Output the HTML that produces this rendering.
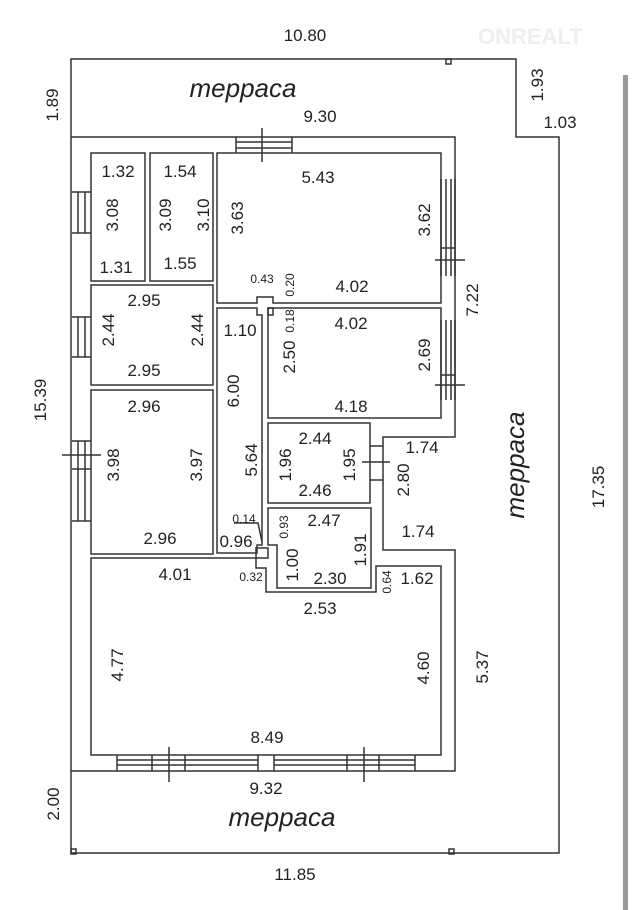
<!DOCTYPE html>
<html><head><meta charset="utf-8"><style>
html,body{margin:0;padding:0;background:#fff;}
svg{display:block;}
text{font-family:"Liberation Sans Narrow","Liberation Sans",sans-serif;fill:#222;font-stretch:condensed;}
.n{font-size:17px;}
.s{font-size:12px;}
.t{font-size:26px;font-style:italic;font-family:"DejaVu Sans","Liberation Sans",sans-serif;fill:#444;font-weight:normal;}
</style></head><body>
<svg width="633" height="910" viewBox="0 0 633 910" xmlns="http://www.w3.org/2000/svg">
<g fill="none" stroke="#333" stroke-width="1.5">
<path d="M71 59 H516 V137 H559 V853 H71 Z"/>
<rect x="446" y="59" width="5" height="5"/>
<rect x="71" y="849" width="5" height="5"/>
<rect x="449" y="849" width="5" height="5"/>
<path d="M71 137 H455 V437 H383 V550 H455 V771 H71"/>
<rect x="91" y="153" width="54" height="128"/>
<rect x="150" y="153" width="63" height="128"/>
<path d="M217 153 H441 V303 H273 V297 H257 V303 H217 Z"/>
<rect x="91" y="285" width="122" height="100"/>
<rect x="91" y="390" width="122" height="164"/>
<path d="M217 308 H257 V315 H262 V545 H257 V553 H217 Z"/>
<path d="M268 308 H273 V315 H268 Z"/>
<rect x="268" y="308" width="173" height="110"/>
<rect x="268" y="423" width="102" height="80"/>
<path d="M268 508 H371 V588 H277 V545 H268 Z"/>
<path d="M91 558 H256 V568 H266 V592 H376 V566 H441 V755 H91 Z"/>
<path d="M256 548 H268 V558 H256 Z" />
<path d="M236 137 V153 M292 137 V153 M236 142 H292 M236 148 H292 M262 128 V162"/>
<path d="M72 192 H91 M72 233 H91 M78 192 V233 M85 192 V233"/>
<path d="M72 317 H91 M72 357 H91 M78 317 V357 M85 317 V357"/>
<path d="M72 441 H91 M72 521 H91 M78 441 V521 M85 441 V521 M62 455 H101 M72 469 H91"/>
<path d="M441 179 V276 M455 179 V276 M446 179 V276 M451 179 V276 M441 248 H455 M435 260 H465"/>
<path d="M441 320 V400 M455 320 V400 M446 320 V400 M451 320 V400 M441 375 H455 M435 385 H465"/>
<path d="M370 446 H383 M370 480 H383 M362 462 H390"/>
<path d="M117 755 V771 M258 755 V771 M274 755 V771 M415 755 V771 M117 760 H258 M117 765 H258 M274 760 H415 M274 765 H415 M152 755 V771 M185 755 V771 M347 755 V771 M379 755 V771 M169 747 V782 M364 747 V782"/>
<path d="M234 523 H258 L262 542"/>
</g>
<rect x="623" y="75" width="5" height="835" fill="#999"/>
<text x="478" y="44" style="font-size:22px;font-weight:bold;fill:#eee;font-family:'Liberation Sans',sans-serif">ONREALT</text>

<g class="n" text-anchor="middle">
<text x="305" y="41">10.80</text>
<text x="320" y="122">9.30</text>
<text x="560" y="128">1.03</text>
<text x="118" y="177">1.32</text>
<text x="116" y="273">1.31</text>
<text x="180" y="177">1.54</text>
<text x="180" y="269">1.55</text>
<text x="318" y="183">5.43</text>
<text x="352" y="292">4.02</text>
<text x="144" y="306">2.95</text>
<text x="144" y="376">2.95</text>
<text x="240" y="336">1.10</text>
<text x="351" y="329">4.02</text>
<text x="351" y="412">4.18</text>
<text x="144" y="412">2.96</text>
<text x="315" y="444">2.44</text>
<text x="315" y="496">2.46</text>
<text x="422" y="453">1.74</text>
<text x="418" y="537">1.74</text>
<text x="160" y="544">2.96</text>
<text x="324" y="526">2.47</text>
<text x="236" y="547">0.96</text>
<text x="330" y="584">2.30</text>
<text x="417" y="584">1.62</text>
<text x="175" y="580">4.01</text>
<text x="320" y="614">2.53</text>
<text x="267" y="743">8.49</text>
<text x="266" y="794">9.32</text>
<text x="295" y="880">11.85</text>
</g>
<g class="s" text-anchor="middle">
<text x="262" y="283">0.43</text>
<text x="244" y="523">0.14</text>
<text x="251" y="581">0.32</text>
</g>
<g class="n" text-anchor="middle">
<text transform="translate(58,105) rotate(-90)">1.89</text>
<text transform="translate(543,85) rotate(-90)">1.93</text>
<text transform="translate(118,215) rotate(-90)">3.08</text>
<text transform="translate(171,215) rotate(-90)">3.09</text>
<text transform="translate(209,215) rotate(-90)">3.10</text>
<text transform="translate(243,218) rotate(-90)">3.63</text>
<text transform="translate(430,220) rotate(-90)">3.62</text>
<text transform="translate(114,330) rotate(-90)">2.44</text>
<text transform="translate(203,330) rotate(-90)">2.44</text>
<text transform="translate(295,357) rotate(-90)">2.50</text>
<text transform="translate(430,355) rotate(-90)">2.69</text>
<text transform="translate(478,300) rotate(-90)">7.22</text>
<text transform="translate(46,400) rotate(-90)">15.39</text>
<text transform="translate(239,391) rotate(-90)">6.00</text>
<text transform="translate(119,465) rotate(-90)">3.98</text>
<text transform="translate(202,465) rotate(-90)">3.97</text>
<text transform="translate(257,460) rotate(-90)">5.64</text>
<text transform="translate(291,465) rotate(-90)">1.96</text>
<text transform="translate(355,465) rotate(-90)">1.95</text>
<text transform="translate(409,480) rotate(-90)">2.80</text>
<text transform="translate(604,487) rotate(-90)">17.35</text>
<text transform="translate(366,550) rotate(-90)">1.91</text>
<text transform="translate(298,565) rotate(-90)">1.00</text>
<text transform="translate(123,665) rotate(-90)">4.77</text>
<text transform="translate(429,668) rotate(-90)">4.60</text>
<text transform="translate(488,667) rotate(-90)">5.37</text>
<text transform="translate(59,804) rotate(-90)">2.00</text>
</g>
<g class="s" text-anchor="middle">
<text transform="translate(294,285) rotate(-90)">0.20</text>
<text transform="translate(294,321) rotate(-90)">0.18</text>
<text transform="translate(288,527) rotate(-90)">0.93</text>
<text transform="translate(391,582) rotate(-90)">0.64</text>
</g>
<g class="t" text-anchor="middle">
<text x="243" y="97">терраса</text>
<text x="282" y="826">терраса</text>
<text transform="translate(524,465) rotate(-90)">терраса</text>
</g>
</svg>
</body></html>
